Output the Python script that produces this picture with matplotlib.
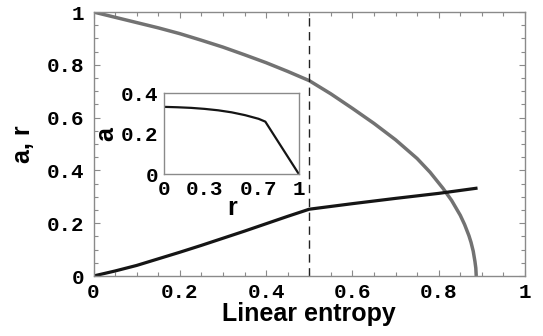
import matplotlib
matplotlib.use("Agg")
import matplotlib.pyplot as plt
from matplotlib.ticker import MultipleLocator, FixedLocator

# Main plot data: r and a versus linear entropy
entropy_r = [0, 0.05, 0.1, 0.15, 0.2, 0.25, 0.3, 0.35, 0.4, 0.45, 0.5, 0.55, 0.6, 0.65,
             0.7, 0.75, 0.78, 0.81, 0.83, 0.85, 0.86, 0.87, 0.875, 0.88, 0.884, 0.886, 0.887]
r_vals = [1.0, 0.98, 0.96, 0.94, 0.918, 0.893, 0.867, 0.838, 0.808, 0.775, 0.74, 0.69, 0.635, 0.578,
          0.516, 0.445, 0.393, 0.332, 0.286, 0.23, 0.195, 0.153, 0.127, 0.094, 0.055, 0.03, 0.0]

entropy_a = [0, 0.05, 0.1, 0.15, 0.2, 0.25, 0.3, 0.35, 0.4, 0.45, 0.5, 0.6, 0.7, 0.8, 0.89]
a_vals = [0, 0.019, 0.04, 0.065, 0.09, 0.116, 0.143, 0.17, 0.198, 0.226, 0.253, 0.274, 0.294, 0.313, 0.333]

# Inset data: a versus r
r_in = [0, 0.1, 0.2, 0.3, 0.4, 0.5, 0.6, 0.7, 0.75, 0.8, 0.9, 1.0]
a_in = [0.333, 0.331, 0.328, 0.323, 0.316, 0.306, 0.292, 0.274, 0.260, 0.208, 0.104, 0.0]

x_major = [0, 0.2, 0.4, 0.6, 0.8, 1]
x_labels = ["0", "0.2", "0.4", "0.6", "0.8", "1"]
y_major = [0, 0.2, 0.4, 0.6, 0.8, 1]
y_labels = ["0", "0.2", "0.4", "0.6", "0.8", "1"]
inset_x = [0, 0.3, 0.7, 1]
inset_xlabels = ["0", "0.3", "0.7", "1"]
inset_y = [0, 0.2, 0.4]
inset_ylabels = ["0", "0.2", "0.4"]
dashed_x = 0.5

GRAY = "#727272"
SPINE = "#8a8a8a"
mono = dict(family="Liberation Mono", weight="bold", size=15)
sans = dict(family="Liberation Sans", weight="bold")

fig = plt.figure(figsize=(5.43, 3.36), dpi=100)
ax = fig.add_axes([93.5/543, 1-276/336, 431.5/543, 264/336])

ax.plot(entropy_r, r_vals, color=GRAY, lw=2.5, solid_capstyle="butt", solid_joinstyle="round")
ax.plot(entropy_a, a_vals, color="#151515", lw=2.3, solid_capstyle="butt", solid_joinstyle="round")
ax.axvline(dashed_x, color="#222222", lw=1.0, dashes=(6, 4))

ax.set_xlim(0, 1)
ax.set_ylim(0, 1)
ax.xaxis.set_major_locator(FixedLocator(x_major))
ax.yaxis.set_major_locator(FixedLocator(y_major))
ax.set_xticklabels(x_labels, fontdict=mono)
ax.set_yticklabels(y_labels, fontdict=mono)
ax.xaxis.set_minor_locator(MultipleLocator(0.05))
ax.yaxis.set_minor_locator(MultipleLocator(0.05))
ax.tick_params(which="both", direction="in", top=True, right=True, color=SPINE, width=0.8)
ax.tick_params(which="major", length=4, pad=5)
ax.tick_params(which="minor", length=3)
ax.tick_params(axis="y", pad=7)
for s in ax.spines.values():
    s.set_color(SPINE)
    s.set_linewidth(1.0)

ax.set_xlabel("Linear entropy", fontsize=18, labelpad=0, **sans)
ax.set_ylabel("a, r", fontsize=18, labelpad=8, **sans)

# Inset
ins = fig.add_axes([164.3/543, 1-174.3/336, 134.7/543, 81/336])
ins.plot(r_in, a_in, color="#151515", lw=1.6)
ins.set_xlim(0, 1)
ins.set_ylim(0, 0.4)
ins.xaxis.set_major_locator(FixedLocator(inset_x))
ins.yaxis.set_major_locator(FixedLocator(inset_y))
ins.set_xticklabels(inset_xlabels, fontdict=mono)
ins.set_yticklabels(inset_ylabels, fontdict=mono)
ins.tick_params(which="both", length=0, pad=4)
for s in ins.spines.values():
    s.set_color(SPINE)
    s.set_linewidth(1.0)
ins.set_xlabel("r", fontsize=18, labelpad=-2, **sans)
ins.set_ylabel("a", fontsize=18, labelpad=2, **sans)

fig.savefig("out.png", dpi=100)
